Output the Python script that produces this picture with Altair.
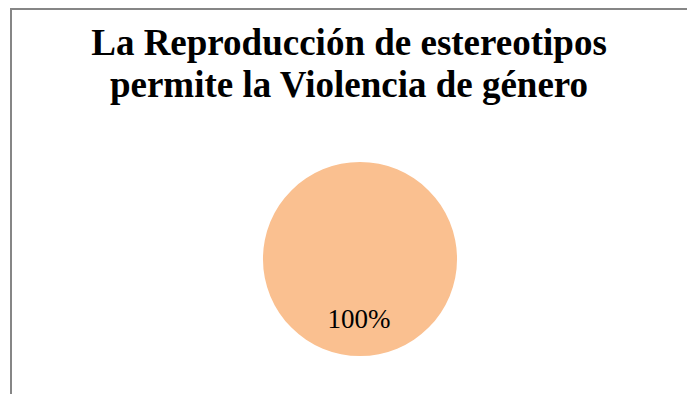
import altair as alt
import pandas as pd

title_lines = ["La Reproducción de estereotipos", "permite la Violencia de género"]
categories = ["Sí"]
values = [100]
labels = ["100%"]

df = pd.DataFrame({"categoria": categories, "valor": values, "etiqueta": labels})

pie = alt.Chart(df).mark_arc(radius=97).encode(
    theta=alt.Theta("valor:Q", stack=True),
    color=alt.Color("categoria:N", scale=alt.Scale(range=["#FAC090"]), legend=None),
    x=alt.value(352),
    y=alt.value(251),
)

label = alt.Chart(df).mark_text(
    font="Liberation Serif", fontSize=27, color="#000000", baseline="alphabetic", align="center"
).encode(text="etiqueta:N", x=alt.value(351), y=alt.value(320))

t1 = alt.Chart(pd.DataFrame({"t": [title_lines[0]]})).mark_text(
    font="Liberation Serif", fontSize=37, fontWeight="bold", color="#000000",
    baseline="alphabetic", align="center"
).encode(text="t:N", x=alt.value(341), y=alt.value(47))

t2 = alt.Chart(pd.DataFrame({"t": [title_lines[1]]})).mark_text(
    font="Liberation Serif", fontSize=37, fontWeight="bold", color="#000000",
    baseline="alphabetic", align="center"
).encode(text="t:N", x=alt.value(341), y=alt.value(89))

border_src = pd.DataFrame({"k": [0]})
top = alt.Chart(border_src).mark_rule(color="#868686", strokeWidth=2).encode(
    x=alt.value(2), x2=alt.value(679), y=alt.value(1)
)
left = alt.Chart(border_src).mark_rule(color="#868686", strokeWidth=2).encode(
    x=alt.value(3), y=alt.value(0), y2=alt.value(386)
)

chart = alt.layer(top, left, pie, label, t1, t2).properties(
    width=679, height=386,
    autosize=alt.AutoSizeParams(type="none"),
    padding=0,
).configure_view(stroke=None)

chart.save("out.html", embed_options={"renderer": "svg", "actions": False})
